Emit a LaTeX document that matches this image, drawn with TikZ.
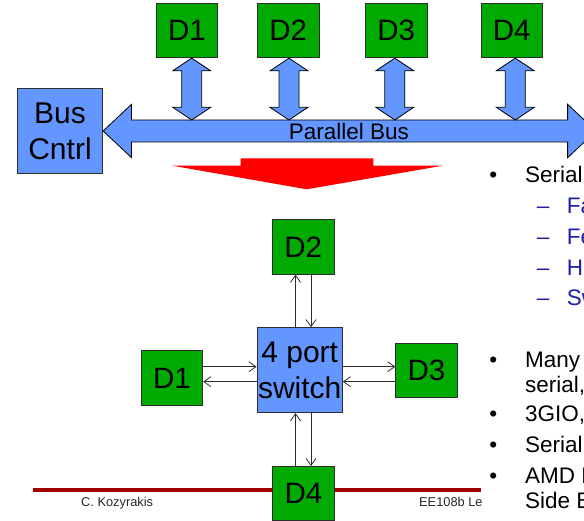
\documentclass[tikz,border=0pt]{standalone}
\usepackage{fontspec}
\setmainfont{Liberation Sans}
\usetikzlibrary{arrows.meta,calc}

\definecolor{boxgreen}{RGB}{0,170,0}
\definecolor{boxblue}{RGB}{100,150,255}
\definecolor{edgegray}{RGB}{45,45,45}
\definecolor{arrowred}{RGB}{255,0,0}
\definecolor{rulered}{RGB}{160,0,0}
\definecolor{subblue}{RGB}{30,30,170}
\definecolor{footgray}{RGB}{40,40,40}

\newcommand\fsz[1]{\fontsize{#1}{#1}\selectfont}

% vertical double block arrow between two points on the same vertical
\newcommand\vdblarrow[2]{%
  \draw[blockarrow] let \p1=(#1), \p2=(#2) in
    (\x1,\y1) -- (\x1+19pt,\y1-12.7pt) -- (\x1+10pt,\y1-12.7pt)
    -- (\x1+10pt,\y2+12.7pt) -- (\x1+19pt,\y2+12.7pt) -- (\x1,\y2)
    -- (\x1-19pt,\y2+12.7pt) -- (\x1-10pt,\y2+12.7pt)
    -- (\x1-10pt,\y1-12.7pt) -- (\x1-19pt,\y1-12.7pt) -- cycle;}

\tikzset{
  dev/.style={draw=edgegray, line width=0.9pt, fill=boxgreen,
    minimum width=61.5pt, minimum height=54.4pt, inner sep=0pt,
    font=\fsz{29.5}},
  hub/.style={draw=edgegray, line width=0.9pt, fill=boxblue,
    minimum width=85.4pt, minimum height=85pt, inner sep=0pt,
    align=center, font=\fontsize{30}{36.7}\selectfont},
  blockarrow/.style={draw=black, line width=0.8pt, fill=boxblue,
    line join=miter},
  link/.style={draw=edgegray, line width=0.8pt,
    -{Straight Barb[length=7pt,width=10pt,line width=0.8pt]}},
  bodytext/.style={anchor=base west, inner sep=0pt, font=\fsz{22.5}},
  subtext/.style={bodytext, text=subblue},
  bulletmark/.style={anchor=base, inner sep=0pt, font=\fsz{22.5}},
  foottext/.style={anchor=base west, inner sep=0pt, font=\fsz{12.8},
    text=footgray},
}

\begin{document}
\begin{tikzpicture}[x=1pt,y=-1pt]
\useasboundingbox (0,0) rectangle (584,521);

% ---------- parallel bus ----------
\node[hub] (bc) at (60,131.2) {Bus\\Cntrl};
\coordinate (busend) at (596,131);
\coordinate (bustop) at (0,120);

\draw[blockarrow] let \p1=(bc.east), \p2=(busend) in
  (\x1,\y2) -- (\x1+28.4pt,\y2+26.7pt) -- (\x1+28.4pt,\y2+11pt)
  -- (\x2-28.4pt,\y2+11pt) -- (\x2-28.4pt,\y2+26.7pt) -- (\x2,\y2)
  -- (\x2-28.4pt,\y2-26.7pt) -- (\x2-28.4pt,\y2-11pt)
  -- (\x1+28.4pt,\y2-11pt) -- (\x1+28.4pt,\y2-26.7pt) -- cycle;
\node[inner sep=0pt, font=\fsz{22.5}] (buslabel) at (349,131) {Parallel Bus};

\node[dev] (t1) at (187,30.5) {D1};
\node[dev] (t2) at (288.2,30.5) {D2};
\node[dev] (t3) at (396.2,30.5) {D3};
\node[dev] (t4) at (511.8,30.5) {D4};

\coordinate (c1) at (191.7,0);
\coordinate (c2) at (289,0);
\coordinate (c3) at (394.8,0);
\coordinate (c4) at (515.3,0);
\vdblarrow{c1 |- t1.south}{c1 |- bustop}
\vdblarrow{c2 |- t2.south}{c2 |- bustop}
\vdblarrow{c3 |- t3.south}{c3 |- bustop}
\vdblarrow{c4 |- t4.south}{c4 |- bustop}

% ---------- transition arrow ----------
\fill[arrowred] (240.7,158.3) -- (373.3,158.3) -- (373.3,165.7)
  -- (442.7,165.7) -- (306.7,189.3) -- (172.3,165.7) -- (240.7,165.7) -- cycle;

% ---------- footer rule ----------
\draw[rulered, line width=4.6pt] (33.3,490) -- (480.7,490);
\node[foottext] (author) at (81,506.7) {C. Kozyrakis};
\node[foottext] (course) at (419,506.3) {EE108b Le};

% ---------- switched network ----------
\node[hub] (sw) at (299.7,370.2) {4 port\\switch};
\node[dev] (d1b) at (172,378) {D1};
\node[dev] (d2b) at (303.2,247) {D2};
\node[dev] (d3b) at (426.5,370.3) {D3};
\node[dev] (d4b) at (303.5,493.7) {D4};

\coordinate (ya) at (0,366.7);
\coordinate (yb) at (0,381.7);
\coordinate (xa) at (295.5,0);
\coordinate (xb) at (311,0);

\draw[link] (d1b.east |- ya) -- (sw.west |- ya);
\draw[link] (sw.west |- yb) -- (d1b.east |- yb);
\draw[link] (sw.east |- ya) -- (d3b.west |- ya);
\draw[link] (d3b.west |- yb) -- (sw.east |- yb);
\draw[link] (sw.north -| xa) -- (d2b.south -| xa);
\draw[link] (d2b.south -| xb) -- (sw.north -| xb);
\draw[link] (d4b.north -| xa) -- (sw.south -| xa);
\draw[link] (sw.south -| xb) -- (d4b.north -| xb);

% ---------- bullet text ----------
\node[bulletmark] (b1) at (493.3,182.3) {•};
\node[bodytext] (l1) at (525,182.3) {Serial};
\node[subtext] (s1d) at (536.7,214) {–};
\node[subtext] (s1) at (566.7,214) {Fa};
\node[subtext] (s2d) at (536.7,244.7) {–};
\node[subtext] (s2) at (566.7,244.7) {Fe};
\node[subtext] (s3d) at (536.7,275.3) {–};
\node[subtext] (s3) at (566.7,275.3) {Hi};
\node[subtext] (s4d) at (536.7,305.8) {–};
\node[subtext] (s4) at (566.7,305.8) {Sw};

\node[bulletmark] (b2) at (493.3,367.7) {•};
\node[bodytext] (l2) at (525,367.7) {Many};
\node[bodytext] (l2b) at (525,392.7) {serial,};
\node[bulletmark] (b3) at (493.3,421.5) {•};
\node[bodytext] (l3) at (525,421.5) {3GIO,};
\node[bulletmark] (b4) at (493.3,452.5) {•};
\node[bodytext] (l4) at (525,452.5) {Serial};
\node[bulletmark] (b5) at (493.3,483.5) {•};
\node[bodytext] (l5) at (525,483.5) {AMD H};
\node[bodytext] (l5b) at (525,508.5) {Side B};
\end{tikzpicture}
\end{document}
